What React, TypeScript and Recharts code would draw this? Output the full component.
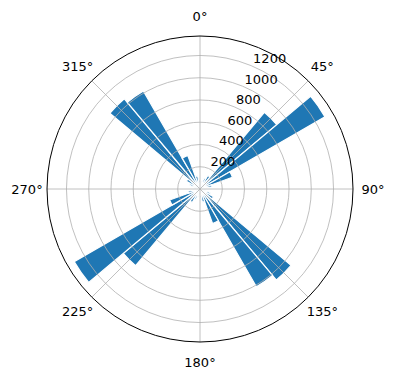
import {
  RadialBarChart, RadialBar, PolarGrid, PolarAngleAxis, PolarRadiusAxis
} from "recharts";

// bin centres in degrees, clockwise from north, 10° bins
const binCenters = [
  5, 15, 25, 35, 45, 55, 65, 75, 85,
  95, 105, 115, 125, 135, 145, 155, 165, 175,
  185, 195, 205, 215, 225, 235, 245, 255, 265,
  275, 285, 295, 305, 315, 325, 335, 345, 355,
];

const counts = [
  60, 80, 100, 140, 900, 1297, 310, 110, 70,
  60, 80, 100, 140, 1068, 1014, 330, 120, 80,
  60, 80, 100, 140, 900, 1306, 290, 110, 70,
  60, 80, 100, 140, 1058, 1016, 320, 120, 80,
];

const radialTicks = [200, 400, 600, 800, 1000, 1200];
// 360 stands in for 0° so every tick sits inside the axis domain
const compassTicks = [45, 90, 135, 180, 225, 270, 315, 360];

const data = binCenters.map((d, i) => ({ dir: d, deg: d + 10, count: counts[i] }));

const FONT = "'DejaVu Sans', sans-serif";
const W = 396;
const H = 380;

const CompassTick = (props: any) => {
  const { x, y, payload } = props;
  return (
    <text x={x} y={y} textAnchor="middle" dominantBaseline="central"
      fontFamily={FONT} fontSize={13} fill="#000">
      {`${payload.value % 360}°`}
    </text>
  );
};

const RadiusTick = (props: any) => {
  const { x, y, payload } = props;
  return (
    <text x={x + 2} y={y - 2.5} textAnchor="start"
      fontFamily={FONT} fontSize={13} fill="#000">
      {payload.value}
    </text>
  );
};

// sectors are drawn from the band start back towards startAngle,
// so the circle starts one bin (10°) clockwise of north
const chartProps = {
  width: W,
  height: H,
  data,
  layout: "centric" as const,
  cx: 200,
  cy: 189,
  innerRadius: 0,
  outerRadius: 153,
  startAngle: 80,
  endAngle: -280,
  barCategoryGap: 0,
  margin: { top: 0, right: 0, bottom: 0, left: 0 },
};

const layer: React.CSSProperties = { position: "absolute", left: 0, top: 0, width: W, height: H };

function Bars({ visible }: { visible: boolean }) {
  return (
    <RadialBar
      angleAxisId="bins"
      radiusAxisId="r"
      dataKey="count"
      fill={visible ? "#1f77b4" : "none"}
      stroke={visible ? "#ffffff" : "none"}
      strokeWidth={1.2}
      isAnimationActive={false}
    />
  );
}

export default function App() {
  return (
    <div style={{ ...layer, background: "#fff" }}>
      <div style={layer}>
        <RadialBarChart {...chartProps}>
          <PolarAngleAxis angleAxisId="bins" dataKey="dir" type="category"
            tick={false} tickLine={false} axisLine={false} />
          <PolarRadiusAxis radiusAxisId="r" type="number" domain={[0, 1375]}
            tick={false} tickLine={false} axisLine={false} />
          {Bars({ visible: true })}
        </RadialBarChart>
      </div>
      {/* grid and labels sit above the bars, as in the source plot */}
      <div style={layer}>
        <RadialBarChart {...chartProps}>
          <PolarAngleAxis angleAxisId="bins" dataKey="dir" type="category"
            tick={false} tickLine={false} axisLine={false} />
          <PolarAngleAxis
            angleAxisId="deg"
            dataKey="deg"
            type="number"
            domain={[10, 370]}
            ticks={compassTicks}
            tickSize={20}
            tickLine={false}
            axisLineType="circle"
            axisLine={{ stroke: "#000", strokeWidth: 1 }}
            tick={<CompassTick />}
          />
          <PolarRadiusAxis
            radiusAxisId="r"
            type="number"
            domain={[0, 1375]}
            ticks={radialTicks}
            angle={67.5}
            axisLine={false}
            tickLine={false}
            tick={<RadiusTick />}
          />
          {Bars({ visible: false })}
          <PolarGrid
            angleAxisId="deg"
            radiusAxisId="r"
            gridType="circle"
            stroke="#b0b0b0"
            strokeWidth={0.8}
          />
        </RadialBarChart>
      </div>
    </div>
  );
}
